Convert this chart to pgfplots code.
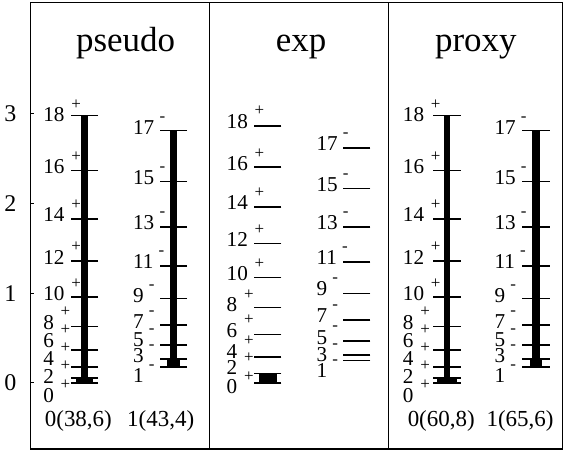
\documentclass[border=0pt]{standalone}
\usepackage{fontspec}
\setmainfont{Liberation Serif}
\usepackage{pgfplots}
\usepackage{pgfplotstable}
\pgfplotsset{compat=1.18}

% level energies (MeV); x = column position
\pgfplotstableread{
x E
84.6 0
84.6 0.052
84.6 0.174
84.6 0.366
84.6 0.627
84.6 0.958
84.6 1.359
84.6 1.829
84.6 2.369
84.6 2.979
}\pseudoPos
\pgfplotstableread{
x E
173.8 0.177
173.8 0.264
173.8 0.420
173.8 0.646
173.8 0.941
173.8 1.305
173.8 1.740
173.8 2.243
173.8 2.816
}\pseudoNeg
\pgfplotstableread{
x E
268.3 0
268.3 0.105
268.3 0.290
268.3 0.536
268.3 0.840
268.3 1.177
268.3 1.552
268.3 1.960
268.3 2.405
268.3 2.862
}\expPos
\pgfplotstableread{
x E
357.5 0.249
357.5 0.312
357.5 0.464
357.5 0.698
357.5 0.995
357.5 1.347
357.5 1.737
357.5 2.165
357.5 2.621
}\expNeg
\pgfplotstableread{
x E
447.8 0
447.8 0.052
447.8 0.174
447.8 0.366
447.8 0.627
447.8 0.958
447.8 1.359
447.8 1.829
447.8 2.369
447.8 2.979
}\proxyPos
\pgfplotstableread{
x E
537 0.177
537 0.264
537 0.420
537 0.646
537 0.941
537 1.305
537 1.740
537 2.243
537 2.816
}\proxyNeg

% spin labels: x = left edge, y = vertical centre of the number
\pgfplotstableread{
x y J
43 -0.137 0
43 0.075 2
43 0.277 4
43 0.475 6
43 0.676 8
43 0.999 10
43 1.403 12
43 1.879 14
43 2.413 16
43 2.996 18
}\pseudoPosLab
\pgfplotstableread{
x y J
133 0.086 1
133 0.303 3
133 0.487 5
133 0.687 7
133 0.971 9
133 1.355 11
133 1.790 13
133 2.290 15
133 2.847 17
}\pseudoNegLab
\pgfplotstableread{
x y J
226.7 -0.045 0
226.7 0.171 2
226.7 0.356 4
226.7 0.587 6
226.7 0.876 8
226.7 1.218 10
226.7 1.597 12
226.7 2.009 14
226.7 2.443 16
226.7 2.918 18
}\expPosLab
\pgfplotstableread{
x y J
316.7 0.134 1
316.7 0.320 3
316.7 0.512 5
316.7 0.754 7
316.7 1.051 9
316.7 1.403 11
316.7 1.793 13
316.7 2.213 15
316.7 2.666 17
}\expNegLab
\pgfplotstableread{
x y J
403.3 -0.137 0
403.3 0.075 2
403.3 0.277 4
403.3 0.475 6
403.3 0.676 8
403.3 0.999 10
403.3 1.403 12
403.3 1.879 14
403.3 2.413 16
403.3 2.996 18
}\proxyPosLab
\pgfplotstableread{
x y J
495 0.086 1
495 0.303 3
495 0.487 5
495 0.687 7
495 0.971 9
495 1.355 11
495 1.790 13
495 2.290 15
495 2.847 17
}\proxyNegLab

\pgfplotsset{
  levels/.style={only marks, mark=-, mark size=6.8pt,
    mark options={line width=0.75pt, draw=black}},
  poslab/.style={draw=none, mark=none, point meta=explicit symbolic,
    nodes near coords={\pgfplotspointmeta\hspace{3.4pt}\smash{\raisebox{6.2pt}{\fontsize{8.5}{9}\selectfont +}}},
    nodes near coords style={anchor=base west, inner sep=0pt, yshift=-3.6pt,
      font=\fontsize{10.6}{12}\selectfont, text=black}},
  neglab/.style={draw=none, mark=none, point meta=explicit symbolic,
    nodes near coords={\pgfplotspointmeta\hspace{2.6pt}\smash{\raisebox{6.6pt}{\fontsize{8.5}{9}\selectfont -}}},
    nodes near coords style={anchor=base west, inner sep=0pt, yshift=-3.6pt,
      font=\fontsize{10.6}{12}\selectfont, text=black}},
}

\begin{document}
\begin{tikzpicture}
\begin{axis}[
  scale only axis,
  width=266.4pt, height=223.65pt,
  xmin=30.7, xmax=563.5,
  ymin=-0.738, ymax=4.243,
  clip=false,
  axis line style={line width=0.6pt},
  xtick=\empty,
  ytick={0,1,2,3},
  ytick pos=left,
  tick align=inside,
  major tick length=1.6pt,
  tick style={line width=0.6pt, black},
  /pgf/number format/assume math mode=true,
  yticklabel style={font=\fontsize{12}{14}\selectfont, inner sep=0pt, xshift=-7pt},
]
% frame and panel separators
\draw[line width=0.6pt] (rel axis cs:0,0) rectangle (rel axis cs:1,1);
\addplot[black, line width=0.6pt] coordinates {(210,-0.738) (210,4.243)};
\addplot[black, line width=0.6pt] coordinates {(389.5,-0.738) (389.5,4.243)};

% vertical bands
\addplot[black, line width=3.1pt] coordinates {(84.6,0) (84.6,2.979)};
\addplot[black, line width=8.8pt] coordinates {(84.6,0) (84.6,0.052)};
\addplot[black, line width=3.8pt] coordinates {(173.8,0.177) (173.8,2.816)};
\addplot[black, line width=6.5pt] coordinates {(173.8,0.177) (173.8,0.264)};
\addplot[black, line width=8.7pt] coordinates {(268.3,0) (268.3,0.105)};
\addplot[black, line width=3.3pt] coordinates {(447.8,0) (447.8,2.979)};
\addplot[black, line width=10pt] coordinates {(447.8,0) (447.8,0.052)};
\addplot[black, line width=3.8pt] coordinates {(537,0.177) (537,2.816)};
\addplot[black, line width=6pt] coordinates {(537,0.177) (537,0.264)};

% levels
\addplot[levels] table[x=x, y=E] {\pseudoPos};
\addplot[levels] table[x=x, y=E] {\pseudoNeg};
\addplot[levels] table[x=x, y=E] {\expPos};
\addplot[levels] table[x=x, y=E] {\expNeg};
\addplot[levels] table[x=x, y=E] {\proxyPos};
\addplot[levels] table[x=x, y=E] {\proxyNeg};

% spin labels
\addplot[poslab] table[x=x, y=y, meta=J] {\pseudoPosLab};
\addplot[neglab] table[x=x, y=y, meta=J] {\pseudoNegLab};
\addplot[poslab] table[x=x, y=y, meta=J] {\expPosLab};
\addplot[neglab] table[x=x, y=y, meta=J] {\expNegLab};
\addplot[poslab] table[x=x, y=y, meta=J] {\proxyPosLab};
\addplot[neglab] table[x=x, y=y, meta=J] {\proxyNegLab};

% titles
\node[anchor=base, font=\fontsize{17.5}{20}\selectfont] at (axis cs:125.8,3.70) {pseudo};
\node[anchor=base, font=\fontsize{17.5}{20}\selectfont] at (axis cs:301.7,3.70) {exp};
\node[anchor=base, font=\fontsize{17.5}{20}\selectfont] at (axis cs:476.7,3.70) {proxy};

% band labels
\node[font=\fontsize{11.5}{13}\selectfont] at (axis cs:78.5,-0.43) {0(38,6)};
\node[font=\fontsize{11.5}{13}\selectfont] at (axis cs:161,-0.43) {1(43,4)};
\node[font=\fontsize{11.5}{13}\selectfont] at (axis cs:442,-0.43) {0(60,8)};
\node[font=\fontsize{11.5}{13}\selectfont] at (axis cs:521,-0.43) {1(65,6)};

\coordinate (bbsw) at (axis cs:0,-0.772);
\coordinate (bbne) at (axis cs:566,4.27);
\end{axis}
\pgfresetboundingbox
\useasboundingbox (bbsw) rectangle (bbne);
\end{tikzpicture}
\end{document}
